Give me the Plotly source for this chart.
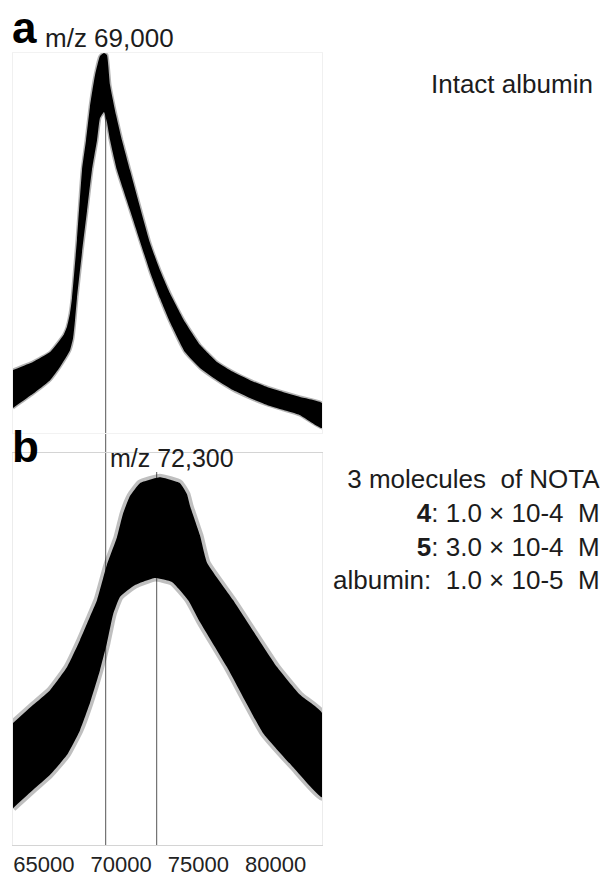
import plotly.graph_objects as go

# ---------------- data (m/z, relative intensity %) ----------------
# Panel a: intact albumin – noisy trace represented by its upper and lower envelope
mz_a_upper = [63000, 64290, 65400, 66040, 66300, 66500, 66690, 66820, 67140, 67470,
              67730, 67980, 68310, 68630, 68890, 69080, 69280, 69670, 70050, 70570,
              71870, 72510, 73160, 74130, 75100, 76200, 77240, 78340, 79440, 80470,
              81580, 83000]
int_a_upper = [16.6, 18.7, 21.3, 24.5, 26.0, 28.0, 31.5, 35.5, 50.8, 69.2,
               77.1, 85.8, 94.2, 99.2, 100.0, 99.5, 91.6, 83.7, 77.1, 69.2,
               50.0, 42.9, 36.8, 29.2, 23.2, 18.7, 16.1, 13.9, 12.1, 10.8,
               9.5, 7.9]
mz_a_lower = [63000, 64290, 65400, 66040, 66690, 66890, 67010, 67140, 67470, 67790,
              68110, 68440, 68630, 68890, 69080, 69280, 69730, 70570, 71870, 72510,
              73160, 74130, 75100, 76200, 77240, 78340, 79440, 80470, 81580, 83000]
int_a_lower = [6.6, 10.3, 13.9, 17.4, 21.8, 25.0, 29.5, 35.5, 47.6, 58.4,
               69.2, 77.1, 82.9, 84.5, 81.8, 77.1, 69.2, 58.7, 42.4, 35.5,
               29.2, 21.3, 17.1, 13.9, 11.3, 9.2, 7.4, 6.1, 4.7, 1.3]

# Panel b: albumin + NOTA – envelope of the noisy trace
mz_b_upper = [63000, 64290, 65400, 66500, 67340, 67980, 68440, 69080, 69730, 70120,
              70570, 71220, 72510, 73810, 74260, 74460, 75100, 75560, 77240, 80090,
              81580, 83000]
int_b_upper = [31.1, 35.7, 39.5, 45.4, 52.3, 58.2, 62.5, 71.5, 78.5, 84.5,
               89.0, 92.3, 93.8, 92.3, 89.5, 86.5, 79.0, 72.0, 62.5, 45.4,
               38.3, 33.7]
mz_b_lower = [63000, 64290, 65400, 66500, 67340, 67980, 68630, 69080, 69470, 69930,
              70900, 72190, 73290, 74330, 75100, 76850, 79180, 81120, 83000]
int_b_lower = [9.4, 14.0, 17.9, 23.0, 29.3, 36.2, 44.6, 51.5, 58.7, 63.3,
               66.3, 68.1, 67.1, 62.5, 56.9, 45.4, 28.6, 19.9, 12.2]

marker_mz = [69000, 72300]
tick_vals = [65000, 70000, 75000, 80000]
tick_text = ["65000", "70000", "75000", "80000"]
x_range = [63000, 83000]

# ---------------- figure ----------------
W, H = 605, 878
def py(p):  # pixel row -> paper fraction
    return 1 - p / H
def px(p):
    return p / W

FONT = "Liberation Sans, Arial, Helvetica, sans-serif"
fig = go.Figure()

fig.add_trace(go.Scatter(
    x=mz_a_upper + mz_a_lower[::-1], y=int_a_upper + int_a_lower[::-1],
    mode="lines", fill="toself", fillcolor="#000000",
    line=dict(color="rgba(0,0,0,0.3)", width=3, shape="spline", smoothing=0.4),
    xaxis="x2", yaxis="y2", hoverinfo="skip", showlegend=False))

fig.add_trace(go.Scatter(
    x=mz_b_upper + mz_b_lower[::-1], y=int_b_upper + int_b_lower[::-1],
    mode="lines", fill="toself", fillcolor="#000000",
    line=dict(color="rgba(0,0,0,0.25)", width=7, shape="spline", smoothing=0.4),
    xaxis="x", yaxis="y", hoverinfo="skip", showlegend=False))

xdom = [px(13), px(322)]
fig.update_layout(
    width=W, height=H,
    margin=dict(l=0, r=0, t=0, b=0),
    paper_bgcolor="white", plot_bgcolor="rgba(0,0,0,0)",
    font=dict(family=FONT, color="#1c1c1c"),
    xaxis=dict(domain=xdom, range=x_range, anchor="y",
               tickvals=tick_vals, ticktext=tick_text, ticks="",
               tickfont=dict(size=22, color="#222"), ticklabelstandoff=0,
               showgrid=False, zeroline=False, showline=True,
               linecolor="#d4d4d4", linewidth=1, mirror=True, automargin=False),
    yaxis=dict(domain=[py(845), py(453)], range=[0, 100], anchor="x",
               showticklabels=False, ticks="", showgrid=False, zeroline=False,
               showline=True, linecolor="#ececec", mirror=True, automargin=False),
    xaxis2=dict(domain=xdom, range=x_range, anchor="y2", showticklabels=False,
                ticks="", showgrid=False, zeroline=False, showline=True,
                linecolor="#f2f2f2", mirror=True, automargin=False),
    yaxis2=dict(domain=[py(433), py(53)], range=[0, 100], anchor="x2",
                showticklabels=False, ticks="", showgrid=False, zeroline=False,
                showline=True, linecolor="#f0f0f0", mirror=True, automargin=False),
)

# marker lines
fig.add_shape(type="line", xref="x", yref="paper", x0=marker_mz[0], x1=marker_mz[0],
              y0=py(845), y1=py(62), line=dict(color="#555555", width=1), layer="below")
fig.add_shape(type="line", xref="x", yref="paper", x0=marker_mz[1], x1=marker_mz[1],
              y0=py(845), y1=py(472), line=dict(color="#555555", width=1), layer="below")

def ann(text, x, y, size, xanchor="left", bold=False, align="left", color="#1c1c1c"):
    fig.add_annotation(text=f"<b>{text}</b>" if bold else text,
                       xref="paper", yref="paper", x=px(x), y=py(y),
                       xanchor=xanchor, yanchor="middle", showarrow=False,
                       align=align, font=dict(size=size, family=FONT, color=color))

NB = "\u00a0"
ann("a", 10, 27, 44, bold=True, color="#000")
ann("m/z 69,000", 43, 38, 26)
ann("Intact albumin", 595, 84, 26, xanchor="right")
ann("b", 10, 446, 44, bold=True, color="#000")
ann("m/z 72,300", 108, 458, 25)
ann(f"3 molecules{NB} of NOTA<br><b>4</b>: 1.0 × 10-4{NB} M<br>"
    f"<b>5</b>: 3.0 × 10-4{NB} M<br>albumin:{NB} 1.0 × 10-5{NB} M",
    602, 529, 26, xanchor="right", align="right")

fig.write_html("out.html")
